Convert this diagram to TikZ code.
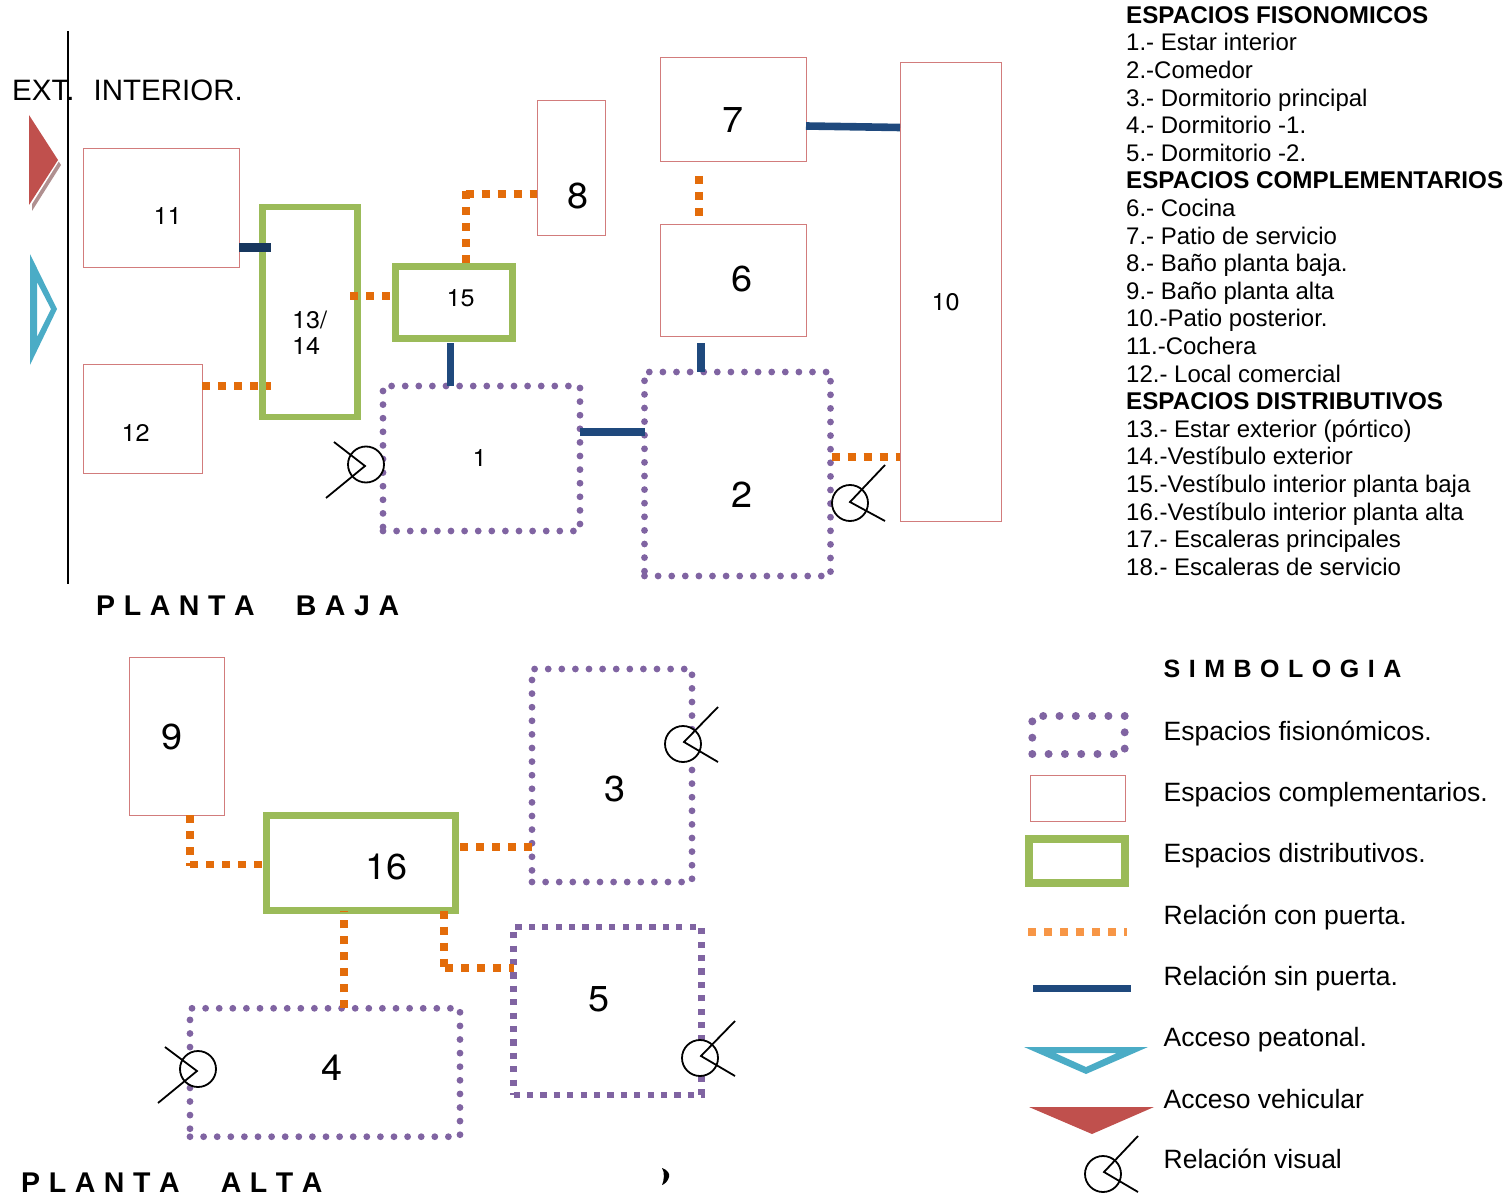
\documentclass[tikz,border=0pt]{standalone}
\usepackage{fontspec}
\setmainfont{Liberation Sans}
\newfontfamily\numfont[FakeStretch=1.05]{TeX Gyre Heros}
\usetikzlibrary{calc}
\definecolor{compcol}{HTML}{D27C7C}
\definecolor{distcol}{HTML}{9BBB59}
\definecolor{fiscol}{HTML}{8064A2}
\definecolor{doorcol}{HTML}{E36C0A}
\definecolor{doorleg}{HTML}{F79646}
\definecolor{wallcol}{HTML}{1F497D}
\definecolor{walldark}{HTML}{17375E}
\definecolor{redacc}{HTML}{C0504D}
\definecolor{blueacc}{HTML}{4BACC6}
\definecolor{shadowcol}{HTML}{B09090}
\newcommand{\fsz}[1]{\fontsize{#1}{#1}\selectfont}
\tikzset{
  x=1pt,y=-1pt,
  box/.style={rectangle,inner sep=0pt,outer sep=0pt,fill=none},
  compl/.style={box,draw=compcol,line width=1pt},
  distr/.style={box,draw=distcol,line width=6.6pt},
  fis/.style={box,draw=fiscol,line width=6.8pt,line cap=round,dash pattern=on 0pt off 13.6pt},
  fissq/.style={box,draw=fiscol,line width=6.2pt,dash pattern=on 6.2pt off 7.2pt},
  door/.style={draw=doorcol,line width=7.6pt,dash pattern=on 8pt off 8pt},
  nodoor/.style={draw=wallcol,line width=7.6pt},
  vcirc/.style={circle,draw=black,fill=white,line width=1.8pt,minimum size=36pt,inner sep=0pt,outer sep=0pt},
  vline/.style={draw=black,line width=1.8pt},
  numa/.style={inner sep=0pt,xshift=0.7pt,font=\numfont\fsz{24}},
  numb/.style={inner sep=0pt,xshift=0.7pt,font=\numfont\fsz{36}},
  head/.style={inner sep=0pt,anchor=base west,font=\fsz{29.5}},
  titl/.style={inner sep=0pt,anchor=base west,font=\fsz{28.5}\bfseries},
  lst/.style={inner sep=0pt,anchor=base west,font=\fsz{24}},
  sym/.style={inner sep=0pt,anchor=base west,font=\fsz{26.5}},
}
\begin{document}
\begin{tikzpicture}
\useasboundingbox (0,0) rectangle (1510,1193);
% boundary line
\coordinate (bt) at (67.5,31); \coordinate (bb) at (67.5,584);
\draw[black,line width=2pt] (bt) -- (bb);
\node[head] (hext) at (12,101) {EXT.};
\node[head] (hint) at (93.5,101) {INTERIOR.};
% access triangles
\fill[shadowcol] (32,121) -- (61,165) -- (32,211) -- cycle;
\fill[white] (30,117) -- (59,161) -- (30,207) -- cycle;
\fill[redacc] (29,115) -- (58,160) -- (29,205) -- cycle;
\fill[blueacc,even odd rule] (30,254) -- (57,309) -- (30,365) -- cycle (37,282) -- (51,309) -- (37,337) -- cycle;
% complementary
\node[compl,minimum width=156pt,minimum height=118pt] (n11) at (161,208) {};
\node[compl,minimum width=119pt,minimum height=109pt] (n12) at (142.5,418.5) {};
\node[compl,minimum width=68pt,minimum height=135pt] (n8) at (571,168) {};
\node[compl,minimum width=146pt,minimum height=104pt] (n7) at (733,109.5) {};
\node[compl,minimum width=146pt,minimum height=112pt] (n6) at (733,280.5) {};
\node[compl,minimum width=101pt,minimum height=459pt] (n10) at (950.5,291.7) {};
\node[compl,minimum width=94.6pt,minimum height=157.6pt] (n9) at (176.8,736.5) {};
% distributive
\node[distr,minimum width=95.1pt,minimum height=210pt] (n13) at (309.85,312) {};
\node[distr,minimum width=117.5pt,minimum height=71.7pt] (n15) at (454,302.5) {};
\node[distr,minimum width=189pt,minimum height=95.4pt] (n16) at (361.2,863) {};
% physiognomic
\node[fis,minimum width=197pt,minimum height=145pt] (n1) at (481.5,458.5) {};
\node[fis,minimum width=186pt,minimum height=204pt] (n2) at (737.5,474) {};
\node[fis,minimum width=160pt,minimum height=213pt] (n3) at (612,775.5) {};
\node[fis,minimum width=270pt,minimum height=128.4pt] (n4) at (325,1072.5) {};
\node[fissq,minimum width=188pt,minimum height=168pt] (n5) at (607.5,1010.7) {};
% free ends
\coordinate (e11) at (271,247.5);
\coordinate (e12) at (271,386);
\coordinate (e13) at (350,296);
\coordinate (e15) at (450.3,343);
\coordinate (e16) at (460,847);
\coordinate (e6) at (701,343);
\coordinate (e7t) at (699,176);
\coordinate (e7b) at (699,216);
\coordinate (b158) at (465.7,191);
\coordinate (c158) at (465.7,194.3);
\coordinate (b95) at (190,864.3);
\coordinate (e95) at (190,866);
\coordinate (b165) at (444,967.7);
\coordinate (e2) at (831.5,457);
% connectors
\draw[nodoor,line width=8pt,draw=walldark] (n11.east |- e11) -- (e11);
\draw[door] (n12.east |- e12) -- (e12);
\draw[door] (e13) -- (n15.west |- e13);
\draw[door] (b158) -- (b158 |- n15.north);
\draw[door] (c158) -- (n8.west |- c158);
\draw[door] (e7t) -- (e7b);
\draw[door] (e2) -- (n10.west |- e2);
\draw[nodoor] (e15) -- (n1.north -| e15);
\draw[nodoor] (n1.east |- 0,432) -- (n2.west |- 0,432);
\draw[nodoor] (e6) -- (n2.north -| e6);
\draw[nodoor] (n7.east |- 0,126) -- (n10.west |- 0,127.5);
\draw[door] (n9.south -| b95) -- (e95);
\draw[door] (b95) -- (n16.west |- b95);
\draw[door] (e16) -- (n3.west |- e16);
\draw[door] (n4.north -| 344,0) -- (n16.south -| 344,0);
\draw[door] (n16.south -| b165) -- (b165);
\draw[door] (b165) ++(1,0) -- (n5.west |- b165);
% numbers
\node[numa] (t11) at (167,216) {11};
\node[numa] (t12) at (135,433) {12};
\node[numa,align=left,font=\numfont\fontsize{24}{25.5}\selectfont] (t13) at (309,332.7) {13/\\14};
\node[numa] (t15) at (460,298) {15};
\node[numa] (t1) at (479,458) {1};
\node[numa] (t10) at (945,302) {10};
\node[numb] (t2) at (741,495) {2};
\node[numb] (t6) at (741,279) {6};
\node[numb] (t7) at (732,120) {7};
\node[numb] (t8) at (577,196) {8};
\node[numb] (t9) at (171,737) {9};
\node[numb] (t16) at (386,867) {16};
\node[numb] (t3) at (614,789) {3};
\node[numb] (t5) at (598,999) {5};
\node[numb] (t4) at (331,1068) {4};
% visual relation symbols
\node[vcirc] (v1) at (366,464.5) {};
\draw[vline] (334,442) -- (365,466) -- (326,498);
\node[vcirc] (v2) at (850,503) {};
\draw[vline] (885,465) -- (850,502) -- (885,521);
\node[vcirc] (v3) at (683,744) {};
\draw[vline] (718,707) -- (684,742) -- (718,762);
\node[vcirc] (v5) at (700,1058) {};
\draw[vline] (735,1021) -- (701,1056) -- (735,1076);
\node[vcirc] (v4) at (198,1069) {};
\draw[vline] (165,1047) -- (197,1071) -- (158,1103);
\node[vcirc] (v6) at (1103,1174) {};
\draw[vline] (1138,1136) -- (1104,1172) -- (1138,1192);
% titles
\node[titl] (p1) at (96,615) {\spaceskip=8.6pt P L A N T A\hspace{41pt}B A J A};
\node[titl] (p2) at (21,1192) {\spaceskip=8.6pt P L A N T A\hspace{41pt}A L T A};
\node[titl,font=\fsz{25}\bfseries] (p3) at (1163.5,677) {\spaceskip=8.5pt S I M B O L O G I A};
% stray mark
\fill[black] (662,1168) .. controls (668,1170) and (670,1174) .. (669,1177) .. controls (668,1181) and (665,1184) .. (662,1185) .. controls (664,1181) and (665,1172) .. (662,1168) -- cycle;
% list
\foreach \t [count=\i from 0] in {
 \textbf{\fsz{24.2}ESPACIOS FISONOMICOS},1.- Estar interior,2.-Comedor,3.- Dormitorio principal,4.- Dormitorio -1.,5.- Dormitorio -2.,
 \textbf{\fsz{24.2}ESPACIOS COMPLEMENTARIOS},6.- Cocina,7.- Patio de servicio,8.- Baño planta baja.,9.- Baño planta alta,10.-Patio posterior.,11.-Cochera,12.- Local comercial,
 \textbf{\fsz{24.2}ESPACIOS DISTRIBUTIVOS},13.- Estar exterior (pórtico),14.-Vestíbulo exterior,15.-Vestíbulo interior planta baja,16.-Vestíbulo interior planta alta,17.- Escaleras principales,18.- Escaleras de servicio}
 {\node[lst] (L\i) at (1126,{23.3+27.6*\i}) {\t};}
% legend shapes
\node[fis,minimum width=92.4pt,minimum height=38pt,line width=8pt,dash pattern=on 0pt off 16.3pt] (lf) at (1078.5,735) {};
\node[compl,minimum width=95pt,minimum height=46pt] (lc) at (1077.5,798) {};
\node[distr,minimum width=96pt,minimum height=43.7pt,line width=8pt] (ld) at (1077,861) {};
\coordinate (ld1) at (1028,932); \coordinate (ld2) at (1127,932);
\draw[door,draw=doorleg] (ld1) -- (ld2);
\coordinate (lw1) at (1033,988.5); \coordinate (lw2) at (1131,988.5);
\draw[nodoor] (lw1) -- (lw2);
\fill[blueacc,even odd rule] (1024,1047) -- (1148,1047) -- (1086,1074) -- cycle (1055,1053) -- (1117,1053) -- (1086,1067) -- cycle;
\fill[redacc] (1029,1107) -- (1154,1107) -- (1092,1134) -- cycle;
% legend text
\node[sym] (s1) at (1163.5,740) {Espacios fisionómicos.};
\node[sym] (s2) at (1163.5,801) {Espacios complementarios.};
\node[sym] (s3) at (1163.5,862) {Espacios distributivos.};
\node[sym] (s4) at (1163.5,924) {Relación con puerta.};
\node[sym] (s5) at (1163.5,985) {Relación sin puerta.};
\node[sym] (s6) at (1163.5,1046) {Acceso peatonal.};
\node[sym] (s7) at (1163.5,1108) {Acceso vehicular};
\node[sym] (s8) at (1163.5,1168) {Relación visual};
\end{tikzpicture}
\end{document}
